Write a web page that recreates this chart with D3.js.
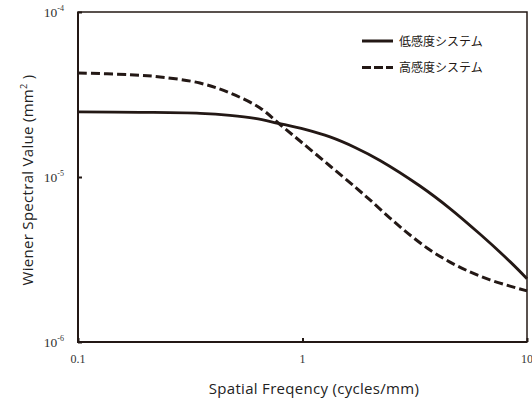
<!DOCTYPE html>
<html>
<head>
<meta charset="utf-8">
<script src="https://cdn.jsdelivr.net/npm/d3@7"></script>
<style>
  body { margin: 0; background: #fff; }
  svg { display: block; }
</style>
</head>
<body>
<script>
// Values (log-log axes)
const SERIES_NAMES = ["低感度システム", "高感度システム"];

const LOW_FREQ = [0.1, 0.189, 0.35, 0.475, 0.614, 0.779, 1.026, 1.326, 1.714, 2.214, 3.337, 4.54, 6.17, 8.4, 10];
const LOW_WSV = [2.48e-5, 2.466e-5, 2.432e-5, 2.366e-5, 2.268e-5, 2.116e-5, 1.943e-5, 1.75e-5, 1.511e-5, 1.26e-5, 8.82e-6, 6.44e-6, 4.51e-6, 3.07e-6, 2.42e-6];

const HIGH_FREQ = [0.1, 0.17, 0.232, 0.349, 0.475, 0.647, 0.794, 0.975, 1.326, 1.714, 1.998, 2.453, 3.012, 3.698, 4.539, 5.573, 6.842, 8.401, 10];
const HIGH_WSV = [4.27e-5, 4.17e-5, 4.04e-5, 3.71e-5, 3.23e-5, 2.62e-5, 2.08e-5, 1.652e-5, 1.166e-5, 8.7e-6, 7.26e-6, 5.64e-6, 4.45e-6, 3.61e-6, 3.05e-6, 2.66e-6, 2.38e-6, 2.18e-6, 2.04e-6];

const X_TICKS = [0.1, 1, 10];
const X_TICK_LABELS = ["0.1", "1", "10"];
const Y_TICKS = [1e-4, 1e-5, 1e-6];
const Y_TICK_EXPONENTS = ["-4", "-5", "-6"];

const WIDTH = 532;
const HEIGHT = 401;
const MARGIN = { left: 78, top: 12, right: 5, bottom: 59 };
const INK = "#231815";

const plotW = WIDTH - MARGIN.left - MARGIN.right;
const plotH = HEIGHT - MARGIN.top - MARGIN.bottom;

const xScale = d3.scaleLog().domain([0.1, 10]).range([0, plotW]);
const yScale = d3.scaleLog().domain([1e-6, 1e-4]).range([plotH, 0]);

const svg = d3.select("body").append("svg")
    .attr("width", WIDTH)
    .attr("height", HEIGHT);

const g = svg.append("g")
    .attr("transform", `translate(${MARGIN.left},${MARGIN.top})`);

// Inner tick marks
g.append("g")
    .attr("transform", `translate(0,${plotH})`)
    .call(d3.axisBottom(xScale).tickValues(X_TICKS).tickSize(-4).tickFormat(""))
    .call(ax => ax.select(".domain").remove())
    .call(ax => ax.selectAll("line").attr("stroke", INK).attr("stroke-width", 2));

g.append("g")
    .call(d3.axisLeft(yScale).tickValues(Y_TICKS).tickSize(-4).tickFormat(""))
    .call(ax => ax.select(".domain").remove())
    .call(ax => ax.selectAll("line").attr("stroke", INK).attr("stroke-width", 2));

// Frame: thinner top/right, heavier axis lines
g.append("rect")
    .attr("width", plotW)
    .attr("height", plotH)
    .attr("fill", "none")
    .attr("stroke", INK)
    .attr("stroke-width", 1.5);
g.append("path")
    .attr("d", `M0,0V${plotH}H${plotW}`)
    .attr("fill", "none")
    .attr("stroke", INK)
    .attr("stroke-width", 2);

// Tick labels
g.selectAll(".xlabel")
    .data(X_TICKS)
    .join("text")
    .attr("class", "xlabel")
    .attr("x", d => xScale(d))
    .attr("y", plotH + 21)
    .attr("text-anchor", "middle")
    .style("font-family", "'Liberation Serif', serif")
    .style("font-size", "12px")
    .attr("fill", "#333")
    .text((d, i) => X_TICK_LABELS[i]);

const yLabels = g.selectAll(".ylabel")
    .data(Y_TICKS)
    .join("text")
    .attr("class", "ylabel")
    .attr("x", -14)
    .attr("y", d => yScale(d) + 4.5)
    .style("font-family", "'Liberation Serif', serif")
    .style("font-size", "13.5px")
    .attr("fill", "#333")
    .attr("text-anchor", "end");
yLabels.append("tspan").text("10");
yLabels.append("tspan")
    .attr("dy", -6)
    .style("font-size", "8px")
    .text((d, i) => Y_TICK_EXPONENTS[i]);

// Lines
const line = d3.line()
    .x(d => xScale(d[0]))
    .y(d => yScale(d[1]))
    .curve(d3.curveCatmullRom.alpha(0.5));

const lowData = LOW_FREQ.map((f, i) => [f, LOW_WSV[i]]);
const highData = HIGH_FREQ.map((f, i) => [f, HIGH_WSV[i]]);

g.append("path")
    .datum(lowData)
    .attr("fill", "none")
    .attr("stroke", INK)
    .attr("stroke-width", 2.8)
    .attr("d", line);

g.append("path")
    .datum(highData)
    .attr("fill", "none")
    .attr("stroke", INK)
    .attr("stroke-width", 3)
    .attr("stroke-dasharray", "9,4")
    .attr("d", line);

// Legend
const legend = svg.append("g").attr("transform", "translate(362,41)");
const legendRows = legend.selectAll("g")
    .data(SERIES_NAMES)
    .join("g")
    .attr("transform", (d, i) => `translate(0,${i * 26.5})`);
legendRows.append("line")
    .attr("x1", 0).attr("x2", 31)
    .attr("stroke", INK)
    .attr("stroke-width", 3)
    .attr("stroke-dasharray", (d, i) => i === 1 ? "9,3" : null);
legendRows.append("text")
    .attr("x", 37)
    .attr("y", 4.5)
    .style("font-family", "'Noto Sans CJK JP', sans-serif")
    .style("font-size", "12px")
    .attr("fill", INK)
    .text(d => d);

// Axis titles
svg.append("text")
    .attr("x", 314)
    .attr("y", 394)
    .attr("text-anchor", "middle")
    .style("font-family", "'Open Sans', sans-serif")
    .style("font-size", "15px")
    .style("letter-spacing", "0.3px")
    .attr("fill", "#222")
    .text("Spatial Freqency (cycles/mm)");

const yTitle = svg.append("text")
    .attr("transform", `translate(33,180) rotate(-90)`)
    .attr("text-anchor", "middle")
    .style("font-family", "'Open Sans', sans-serif")
    .style("font-size", "15px")
    .style("letter-spacing", "0.3px")
    .attr("fill", "#222");
yTitle.append("tspan").text("Wiener Spectral Value (mm");
yTitle.append("tspan").attr("dy", -6).style("font-size", "9px").text("2");
yTitle.append("tspan").attr("dy", 6).text(" )");
</script>
</body>
</html>
